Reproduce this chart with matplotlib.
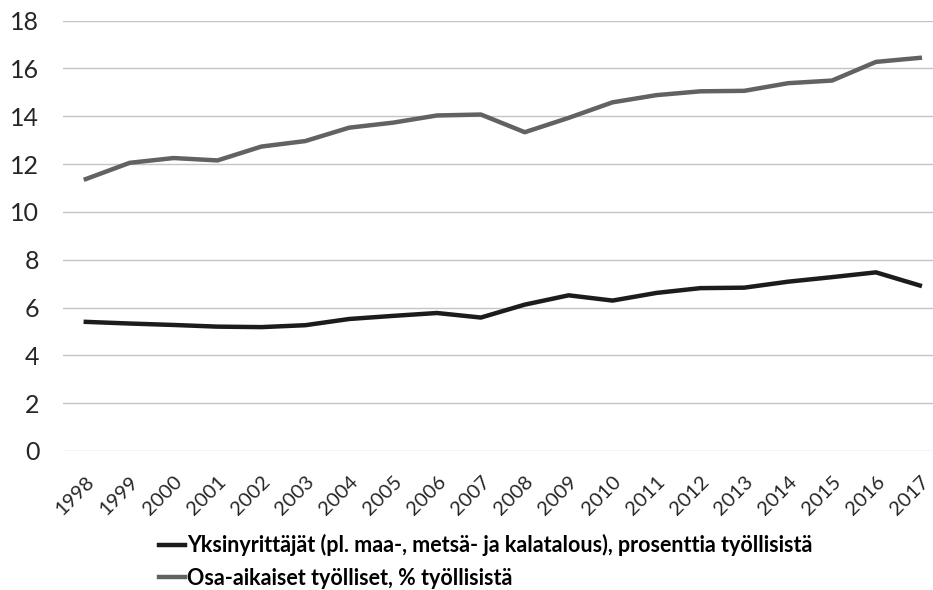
import matplotlib.pyplot as plt

years = [str(y) for y in range(1998, 2018)]
yksinyrittajat = [5.40, 5.33, 5.27, 5.20, 5.18, 5.26, 5.52, 5.65, 5.77, 5.58,
                  6.12, 6.51, 6.29, 6.61, 6.81, 6.83, 7.08, 7.27, 7.47, 6.92]
osa_aikaiset = [11.37, 12.05, 12.25, 12.15, 12.73, 12.96, 13.52, 13.73, 14.03, 14.07,
                13.33, 13.93, 14.58, 14.88, 15.04, 15.06, 15.38, 15.49, 16.27, 16.44]
labels = ['Yksinyrittäjät (pl. maa-, metsä- ja kalatalous), prosenttia työllisistä',
          'Osa-aikaiset työlliset, % työllisistä']

plt.rcParams['font.family'] = ['Lato', 'DejaVu Sans']

fig = plt.figure(figsize=(9.33, 5.9), dpi=100)
ax = fig.add_axes([0.0675, 0.2356, 0.9325, 0.7296])

x = list(range(len(years)))
l1, = ax.plot(x, yksinyrittajat, color='#1c1c1c', linewidth=3.2, solid_joinstyle='round')
l2, = ax.plot(x, osa_aikaiset, color='#626262', linewidth=3.2, solid_joinstyle='round')

ax.set_xlim(-0.52, 19.3)
ax.set_ylim(0, 18)
ax.set_yticks(range(0, 19, 2))
ax.set_xticks(x)
ax.set_xticklabels(years, rotation=45, ha='right', rotation_mode='anchor', fontsize=14.5, color='#262626')
ax.tick_params(axis='y', labelsize=18, labelcolor='#262626', length=0, pad=17)
ax.tick_params(axis='x', length=0, pad=16)
ax.grid(axis='y', color='#c4c4c4', linewidth=1)
ax.set_axisbelow(True)
for s in ax.spines.values():
    s.set_visible(False)

fig.legend([l1, l2], labels, loc='upper left', bbox_to_anchor=(0.1586, 0.113),
           frameon=False, handlelength=1.2, handletextpad=0.1,
           labelspacing=0.55, borderpad=0, prop={'weight': 'bold', 'size': 15.5})

fig.savefig('out.png', dpi=100)
